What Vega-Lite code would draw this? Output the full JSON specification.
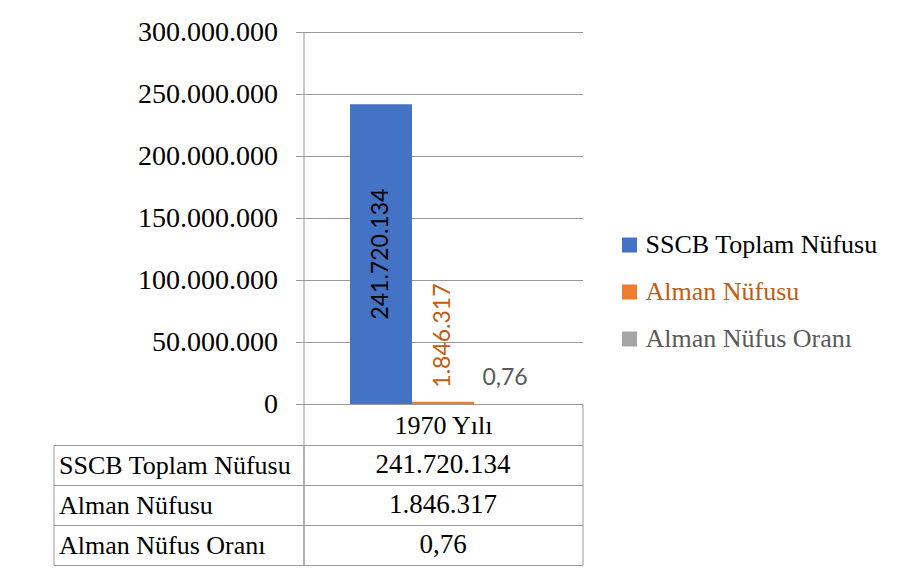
{
  "$schema": "https://vega.github.io/schema/vega-lite/v6.json",
  "background": "white",
  "padding": {"left": 52.5, "top": 18, "right": 20, "bottom": 10},
  "datasets": {
    "pop": [
      {"cat": "1970 Yılı", "series": "SSCB Toplam Nüfusu", "value": 241720134, "label": "241.720.134"},
      {"cat": "1970 Yılı", "series": "Alman Nüfusu", "value": 1846317, "label": "1.846.317"},
      {"cat": "1970 Yılı", "series": "Alman Nüfus Oranı", "value": 0.76, "label": "0,76"}
    ]
  },
  "bounds": "flush",
  "spacing": 41,
  "vconcat": [
    {
      "width": 279,
      "height": 372,
      "view": {"stroke": null},
      "data": {"name": "pop"},
      "layer": [
        {
          "layer": [
            {
              "mark": {"type": "bar"},
              "encoding": {
                "x": {
                  "field": "cat", "type": "nominal",
                  "scale": {"paddingInner": 0, "paddingOuter": 0},
                  "axis": {
                    "title": null, "labelAngle": 0, "domainColor": "#999999", "tickColor": "#999999",
                    "tickBand": "extent", "tickSize": 41, "labelFont": "Liberation Serif", "labelFontSize": 26,
                    "labelColor": "#000000", "labelPadding": -20, "labelBaseline": "middle"
                  }
                },
                "xOffset": {
                  "field": "series", "type": "nominal",
                  "scale": {"domain": ["SSCB Toplam Nüfusu", "Alman Nüfusu", "Alman Nüfus Oranı"], "paddingInner": 0, "paddingOuter": 0.75}
                },
                "y": {
                  "field": "value", "type": "quantitative",
                  "scale": {"domain": [0, 300000000], "nice": false},
                  "axis": {
                    "title": null, "values": [0, 50000000, 100000000, 150000000, 200000000, 250000000, 300000000],
                    "format": ",d", "grid": true, "gridColor": "#999999", "domainColor": "#999999", "tickColor": "#999999",
                    "tickSize": 8, "labelFont": "Liberation Serif", "labelFontSize": 28, "labelColor": "#000000", "labelPadding": 18
                  }
                },
                "color": {
                  "field": "series", "type": "nominal",
                  "scale": {"domain": ["SSCB Toplam Nüfusu", "Alman Nüfusu", "Alman Nüfus Oranı"], "range": ["#4472C4", "#ED7D31", "#A5A5A5"]},
                  "legend": {
                    "title": null, "orient": "none", "legendX": 313, "legendY": 200,
                    "symbolType": "square", "symbolSize": 225, "symbolStrokeWidth": 0, "symbolOpacity": 1,
                    "labelFont": "Liberation Serif", "labelFontSize": 26, "labelLimit": 400, "labelOffset": 3,
                    "rowPadding": 21, "padding": 0,
                    "encode": {
                      "labels": {
                        "update": {
                          "fill": {"signal": "datum.value === 'Alman Nüfusu' ? '#C55A11' : (datum.value === 'SSCB Toplam Nüfusu' ? '#000000' : '#595959')"}
                        }
                      }
                    }
                  }
                }
              }
            },
            {
              "transform": [{"filter": "datum.series === 'Alman Nüfusu'"}],
              "mark": {"type": "text", "angle": 270, "align": "left", "baseline": "middle", "dx": 14, "font": "Lato", "fontSize": 23, "color": "#C55A11"},
              "encoding": {
                "x": {"field": "cat", "type": "nominal"},
                "xOffset": {"field": "series", "type": "nominal"},
                "y": {"field": "value", "type": "quantitative"},
                "text": {"field": "label"}
              }
            },
            {
              "transform": [{"filter": "datum.series === 'Alman Nüfus Oranı'"}],
              "mark": {"type": "text", "align": "center", "baseline": "middle", "dy": -26, "font": "Lato", "fontSize": 23, "color": "#595959"},
              "encoding": {
                "x": {"field": "cat", "type": "nominal"},
                "xOffset": {"field": "series", "type": "nominal"},
                "y": {"field": "value", "type": "quantitative"},
                "text": {"field": "label"}
              }
            }
          ]
        },
        {
          "transform": [{"filter": "datum.series === 'SSCB Toplam Nüfusu'"}],
          "mark": {"type": "text", "angle": 270, "align": "center", "baseline": "middle", "font": "Lato", "fontSize": 23, "color": "#000000"},
          "encoding": {
            "x": {"field": "cat", "type": "nominal"},
            "xOffset": {"field": "series", "type": "nominal"},
            "y": {"field": "value", "type": "quantitative", "scale": {"domain": [0, 600000000], "nice": false}, "axis": null},
            "text": {"field": "label"}
          }
        }
      ],
      "resolve": {"scale": {"y": "independent"}}
    },
    {
      "width": 279,
      "height": 120,
      "view": {"stroke": "#999999", "strokeWidth": 1},
      "data": {"name": "pop"},
      "layer": [
        {
          "mark": {"type": "text", "font": "Liberation Serif", "fontSize": 27, "color": "#000000", "align": "center", "baseline": "middle"},
          "encoding": {
            "x": {"field": "cat", "type": "nominal", "axis": null, "scale": {"paddingInner": 0, "paddingOuter": 0}},
            "y": {
              "field": "series", "type": "nominal",
              "scale": {"domain": ["SSCB Toplam Nüfusu", "Alman Nüfusu", "Alman Nüfus Oranı"], "paddingInner": 0, "paddingOuter": 0},
              "axis": {
                "title": null, "orient": "left", "tickBand": "extent", "tickSize": 250, "tickColor": "#999999",
                "grid": true, "gridColor": "#999999", "domainColor": "#999999",
                "labelAlign": "left", "labelPadding": -5, "labelBaseline": "middle",
                "labelFont": "Liberation Serif", "labelFontSize": 26, "labelColor": "#000000", "labelLimit": 300
              }
            },
            "text": {"field": "label"}
          }
        },
        {
          "mark": {"type": "text", "opacity": 0},
          "encoding": {
            "y": {
              "field": "series", "type": "nominal",
              "axis": {"title": null, "orient": "left", "offset": 250, "labels": false, "ticks": false, "grid": false, "domain": true, "domainColor": "#999999"}
            },
            "text": {"value": ""}
          }
        }
      ],
      "resolve": {"axis": {"y": "independent"}}
    }
  ],
  "config": {
    "locale": {"number": {"decimal": ",", "thousands": ".", "grouping": [3], "currency": ["", " TL"]}},
    "view": {"stroke": null},
    "axis": {"domainWidth": 1, "tickWidth": 1, "gridWidth": 1}
  }
}
